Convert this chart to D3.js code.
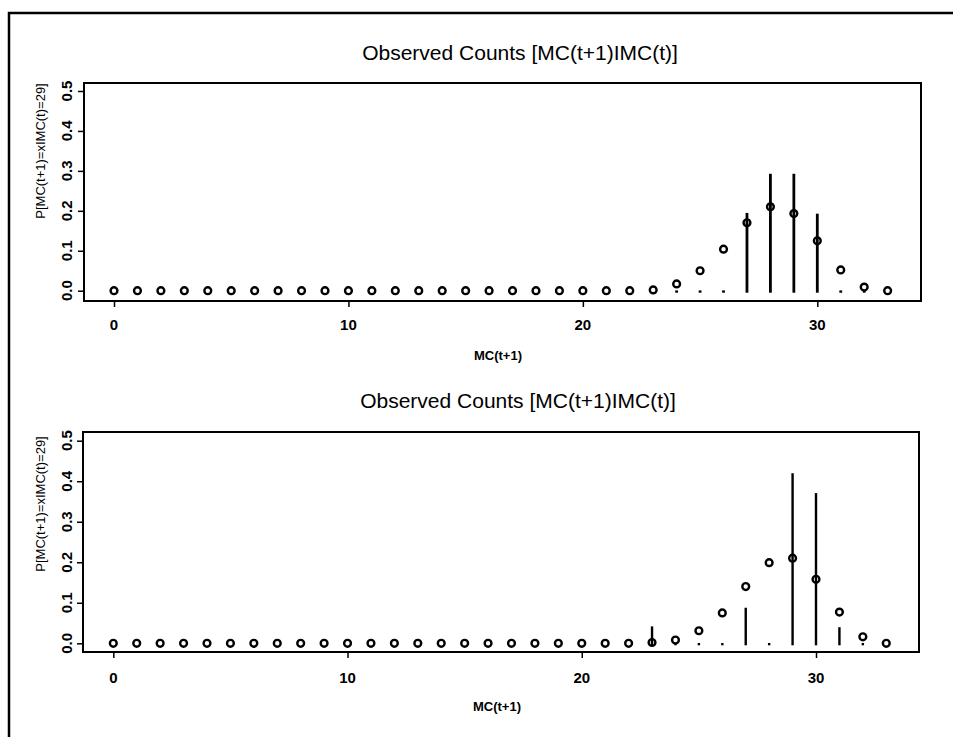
<!DOCTYPE html>
<html>
<head>
<meta charset="utf-8">
<script src="https://cdn.jsdelivr.net/npm/d3@7"></script>
<style>
  body { margin: 0; background: #fff; }
  svg { display: block; font-family: "Liberation Sans", Arial, sans-serif; }
</style>
</head>
<body>
<div id="chart"></div>
<script>
// categories on the x axis
var mcValues = [0,1,2,3,4,5,6,7,8,9,10,11,12,13,14,15,16,17,18,19,20,21,22,23,24,25,26,27,28,29,30,31,32,33];

// top panel: observed proportions (circles)
var topObserved = [0,0,0,0,0,0,0,0,0,0,0,0,0,0,0,0,0,0,0,0,0,0,0,
                   0.002,0.017,0.05,0.104,0.17,0.21,0.193,0.125,0.052,0.009,0];
// top panel: vertical interval segments (from 0 up to value)
var topBarX  = [24,25,26,27,28,29,30,31,32];
var topBarHi = [0.002,0.002,0.002,0.196,0.294,0.294,0.194,0.002,0.002];

// bottom panel
var bottomObserved = [0,0,0,0,0,0,0,0,0,0,0,0,0,0,0,0,0,0,0,0,0,0,0,
                      0.002,0.008,0.031,0.075,0.14,0.199,0.21,0.158,0.077,0.016,0];
var bottomBarX  = [23,24,25,26,27,28,29,30,31,32];
var bottomBarHi = [0.043,0.002,0.002,0.002,0.089,0.002,0.421,0.372,0.041,0.002];

var xTicks = [0,10,20,30];
var yTicks = [0,0.1,0.2,0.3,0.4,0.5];
var titleText = "Observed Counts [MC(t+1)IMC(t)]";
var xLabel = "MC(t+1)";
var yLabel = "P[MC(t+1)=xIMC(t)=29]";

var width = 953, height = 737;

var svg = d3.select("#chart").append("svg")
            .attr("width", width)
            .attr("height", height);

// page frame (left and top edges visible)
svg.append("path")
   .attr("d", "M9,737 L9,13 L953,13")
   .attr("fill", "none")
   .attr("stroke", "#000")
   .attr("stroke-width", 2.5);

var panels = [
  {observed: topObserved, barX: topBarX, barHi: topBarHi,
   box: {left: 84, top: 83, right: 921, bottom: 301},
   x0: 114, x30: 817.3, y0: 290.7, y5: 91,
   titleX: 520, titleY: 60, yLabY: 151, xLabX: 498, xLabY: 360, tickY: 330, barW: 2.8},
  {observed: bottomObserved, barX: bottomBarX, barHi: bottomBarHi,
   box: {left: 83, top: 432, right: 919, bottom: 652},
   x0: 113.3, x30: 816, y0: 643.3, y5: 440.7,
   titleX: 518, titleY: 408, yLabY: 504, xLabX: 497, xLabY: 711, tickY: 683, barW: 2.4}
];

panels.forEach(function(p) {
  var g = svg.append("g");

  var xScale = d3.scaleLinear().domain([0, 30]).range([p.x0, p.x30]);
  var yScale = d3.scaleLinear().domain([0, 0.5]).range([p.y0, p.y5]);

  // title
  g.append("text")
   .attr("x", p.titleX)
   .attr("y", p.titleY)
   .attr("text-anchor", "middle")
   .style("font-size", "21px")
   .text(titleText);

  // plot box
  g.append("rect")
   .attr("x", p.box.left)
   .attr("y", p.box.top)
   .attr("width", p.box.right - p.box.left)
   .attr("height", p.box.bottom - p.box.top)
   .attr("fill", "none")
   .attr("stroke", "#000")
   .attr("stroke-width", 2);

  // x axis
  var xAxis = d3.axisBottom(xScale).tickValues(xTicks).tickSize(6);
  var xg = g.append("g")
            .attr("transform", "translate(0," + p.box.bottom + ")")
            .call(xAxis);
  xg.select(".domain").remove();
  xg.selectAll("line").attr("stroke-width", 1.5);
  xg.selectAll("text").remove();
  g.selectAll("text.xtick")
   .data(xTicks)
   .enter()
   .append("text")
   .attr("class", "xtick")
   .attr("x", function(d) { return xScale(d); })
   .attr("y", p.tickY)
   .attr("text-anchor", "middle")
   .style("font-size", "15px")
   .style("font-weight", "bold")
   .text(function(d) { return d; });

  // y axis
  var yAxis = d3.axisLeft(yScale).tickValues(yTicks).tickSize(6);
  var yg = g.append("g")
            .attr("transform", "translate(" + p.box.left + ",0)")
            .call(yAxis);
  yg.select(".domain").remove();
  yg.selectAll("line").attr("stroke-width", 1.5);
  yg.selectAll("text").remove();
  g.selectAll("text.ytick")
   .data(yTicks)
   .enter()
   .append("text")
   .attr("class", "ytick")
   .attr("transform", function(d) { return "translate(72," + yScale(d) + ") rotate(-90)"; })
   .attr("text-anchor", "middle")
   .style("font-size", "15px")
   .style("font-weight", "bold")
   .text(function(d) { return d3.format(".1f")(d); });

  // axis labels
  g.append("text")
   .attr("x", p.xLabX)
   .attr("y", p.xLabY)
   .attr("text-anchor", "middle")
   .style("font-size", "13px")
   .style("font-weight", "bold")
   .text(xLabel);

  g.append("text")
   .attr("transform", "translate(45," + p.yLabY + ") rotate(-90)")
   .attr("text-anchor", "middle")
   .style("font-size", "13px")
   .text(yLabel);

  // vertical segments
  g.selectAll("line.bar")
   .data(p.barX.map(function(x, i) { return {x: x, hi: p.barHi[i]}; }))
   .enter()
   .append("line")
   .attr("class", "bar")
   .attr("x1", function(d) { return xScale(d.x); })
   .attr("x2", function(d) { return xScale(d.x); })
   .attr("y1", yScale(0) + 2)
   .attr("y2", function(d) { return yScale(d.hi) + 0.5; })
   .attr("stroke", "#000")
   .attr("stroke-width", p.barW);

  // observed circles
  g.selectAll("circle")
   .data(mcValues.map(function(x, i) { return {x: x, y: p.observed[i]}; }))
   .enter()
   .append("circle")
   .attr("cx", function(d) { return xScale(d.x); })
   .attr("cy", function(d) { return yScale(d.y); })
   .attr("r", 3.4)
   .attr("fill", "none")
   .attr("stroke", "#000")
   .attr("stroke-width", 2.4);
});
</script>
</body>
</html>
